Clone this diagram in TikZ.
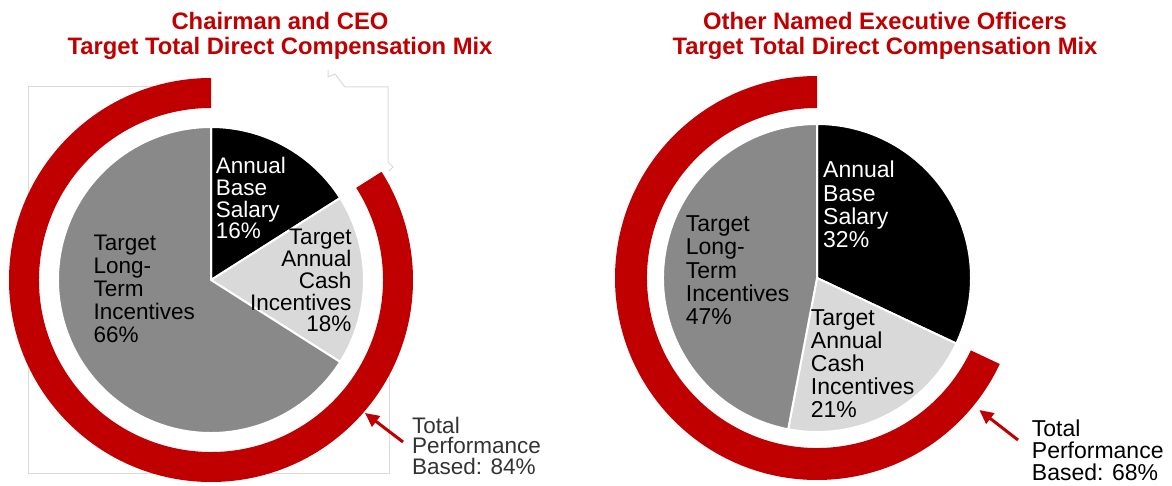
\documentclass[tikz,border=0pt]{standalone}
\usepackage{fontspec}
\setmainfont{Liberation Sans}
\usetikzlibrary{arrows.meta,calc}
\definecolor{ringred}{HTML}{C00000}
\definecolor{slicegray}{HTML}{898989}
\definecolor{slicelight}{HTML}{D9D9D9}
\definecolor{framegray}{HTML}{DADADA}
\definecolor{perfgray}{HTML}{333333}
\begin{document}
\begin{tikzpicture}[x=1pt,y=1pt,
  ringpart/.style={fill=ringred},
  slice/.style={draw=white,line width=2pt,line join=miter},
  frameline/.style={draw=framegray,line width=1pt},
  titletxt/.style={inner sep=0pt,align=center,text=ringred,font=\fontsize{23.8}{25.7}\selectfont\bfseries},
  lblL/.style={inner sep=0pt,font=\fontsize{22.5}{21.7}\selectfont},
  lblR/.style={inner sep=0pt,font=\fontsize{23}{23.3}\selectfont},
  perfarrow/.style={draw=ringred,line width=3pt,-{Triangle[length=14pt,width=13pt]}}
]
\useasboundingbox (0,0) rectangle (1172,485);

% titles (base anchor = baseline of last line)
\node[titletxt,anchor=base] (title1) at (280,430) {Chairman and CEO\\Target Total Direct Compensation Mix};
\node[titletxt,anchor=base] (title2) at (885,430) {Other Named Executive Officers\\Target Total Direct Compensation Mix};

% ---------- left chart ----------
\coordinate (c1) at (211,205);
% faint frame
\draw[frameline] (211,398) -- (28,398) -- (28,12) -- (389,12) -- (389,301);
\draw[frameline] (328,415) -- (328,408) -- (335,411) -- (345,398) -- (388,398) -- (388,323) -- (393,318) -- (389,314);
% ring 84%
\fill[ringpart] ([shift={(90:202)}]c1) arc[start angle=90,end angle=392.4,radius=202]
  -- ([shift={(32.4:172)}]c1) arc[start angle=392.4,end angle=90,radius=172] -- cycle;
% slices
\filldraw[slice,fill=black] (c1) -- ++(90:153) arc[start angle=90,end angle=32.4,radius=153] -- cycle;
\filldraw[slice,fill=slicelight] (c1) -- ++(32.4:153) arc[start angle=32.4,end angle=-32.4,radius=153] -- cycle;
\filldraw[slice,fill=slicegray] (c1) -- ++(-32.4:153) arc[start angle=-32.4,end angle=-270,radius=153] -- cycle;
% labels
\node[lblL,align=left,anchor=base west,text=white] (sal1) at (215.7,246) {Annual\\Base\\Salary\\16\%};
\node[lblL,align=right,anchor=base east] (cash1) at (351.7,153.3) {Target\\Annual\\Cash\\Incentives\\18\%};
\node[lblL,align=left,anchor=base west,font=\fontsize{22.5}{23}\selectfont] (lti1) at (93.3,143) {Target\\Long-\\Term\\Incentives\\66\%};
\node[lblL,align=left,anchor=base west,text=perfgray,font=\fontsize{22.5}{20.8}\selectfont] (perf1) at (412,10.4) {Total\\Performance\\Based: 84\%};
\coordinate (tip1) at (365,72);
\draw[perfarrow] ($(perf1.base west)+(-9,32.6)$) -- (tip1);

% ---------- right chart ----------
\coordinate (c2) at (817,207);
% ring 68%
\fill[ringpart] ([shift={(90:202)}]c2) arc[start angle=90,end angle=334.8,radius=202]
  -- ([shift={(334.8:170)}]c2) arc[start angle=334.8,end angle=90,radius=170] -- cycle;
% slices
\filldraw[slice,fill=black] (c2) -- ++(90:154) arc[start angle=90,end angle=-25.2,radius=154] -- cycle;
\filldraw[slice,fill=slicelight] (c2) -- ++(-25.2:154) arc[start angle=-25.2,end angle=-100.8,radius=154] -- cycle;
\filldraw[slice,fill=slicegray] (c2) -- ++(-100.8:154) arc[start angle=-100.8,end angle=-270,radius=154] -- cycle;
% labels
\node[lblR,align=left,anchor=base west,text=white] (sal2) at (823,237.1) {Annual\\Base\\Salary\\32\%};
\node[lblR,align=left,anchor=base west] (lti2) at (685.7,160.1) {Target\\Long-\\Term\\Incentives\\47\%};
\node[lblR,align=left,anchor=base west,font=\fontsize{23}{23}\selectfont] (cash2) at (810.7,68) {Target\\Annual\\Cash\\Incentives\\21\%};
\node[lblR,align=left,anchor=base west,font=\fontsize{23}{22}\selectfont] (perf2) at (1031.7,5) {Total\\Performance\\Based: 68\%};
\coordinate (tip2) at (979.3,75);
\draw[perfarrow] ($(perf2.base west)+(-13.7,40)$) -- (tip2);
\end{tikzpicture}
\end{document}
